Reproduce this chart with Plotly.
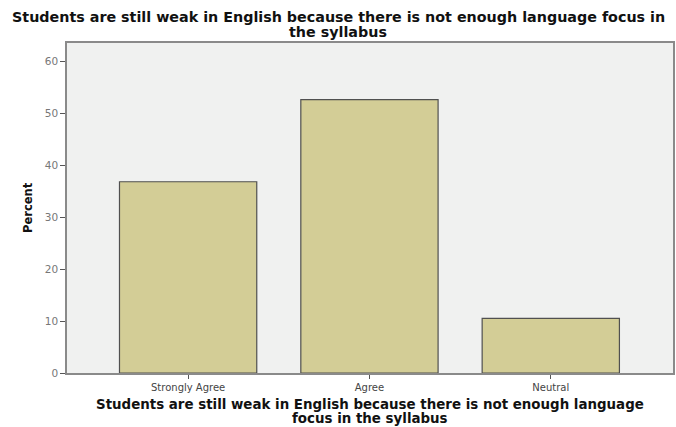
import plotly.graph_objects as go

categories = ["Strongly Agree", "Agree", "Neutral"]
percent = [36.8, 52.6, 10.5]
y_ticks = [0, 10, 20, 30, 40, 50, 60]

title_lines = ["Students are still weak in English because there is not enough language focus in",
               "the syllabus"]
x_title_lines = ["Students are still weak in English because there is not enough language",
                 "focus in the syllabus"]
y_title = "Percent"

fig = go.Figure()
fig.add_trace(go.Bar(
    x=categories, y=percent, width=0.757,
    marker=dict(color="#d3cd96", line=dict(color="#505050", width=1.2)),
))

annotations = []
for i, line in enumerate(title_lines):
    annotations.append(dict(text="<b>" + line + "</b>", xref="paper", yref="paper", x=0.448, y=1,
                            xanchor="center", yanchor="middle", yshift=26.5 - 15 * i, showarrow=False,
                            font=dict(family="DejaVu Sans", size=14.3, color="#111111")))
for i, line in enumerate(x_title_lines):
    annotations.append(dict(text="<b>" + line + "</b>", xref="paper", yref="paper", x=0.5, y=0,
                            xanchor="center", yanchor="middle", yshift=-31 - 14 * i, showarrow=False,
                            font=dict(family="DejaVu Sans", size=13.4, color="#111111")))
annotations.append(dict(text="<b>" + y_title + "</b>", xref="paper", yref="paper", x=0, y=0.5,
                        xanchor="center", yanchor="middle", xshift=-39, textangle=-90, showarrow=False,
                        font=dict(family="DejaVu Sans", size=11.5, color="#111111")))

fig.update_layout(
    width=676, height=427,
    margin=dict(l=67, r=3, t=43, b=54),
    paper_bgcolor="white", plot_bgcolor="#f0f1f0",
    showlegend=False,
    font=dict(family="DejaVu Sans", color="#333333"),
    annotations=annotations,
)
fig.update_xaxes(
    range=[-0.668, 2.674], showline=True, mirror=True, linecolor="#8a8a8a", linewidth=1.5,
    ticks="outside", ticklen=4, tickcolor="#555555", automargin=False,
    tickfont=dict(size=10, color="#444444"), showgrid=False,
)
fig.update_yaxes(
    range=[0, 63.5], tickvals=y_ticks, showline=True, mirror=True, linecolor="#8a8a8a", linewidth=1.5,
    ticks="outside", ticklen=5, tickcolor="#555555", automargin=False,
    tickfont=dict(size=10.5, color="#777777"), showgrid=False, zeroline=False,
)

fig.write_html("out.html", config={"displayModeBar": False},
               post_script="document.body.style.margin='0';")
